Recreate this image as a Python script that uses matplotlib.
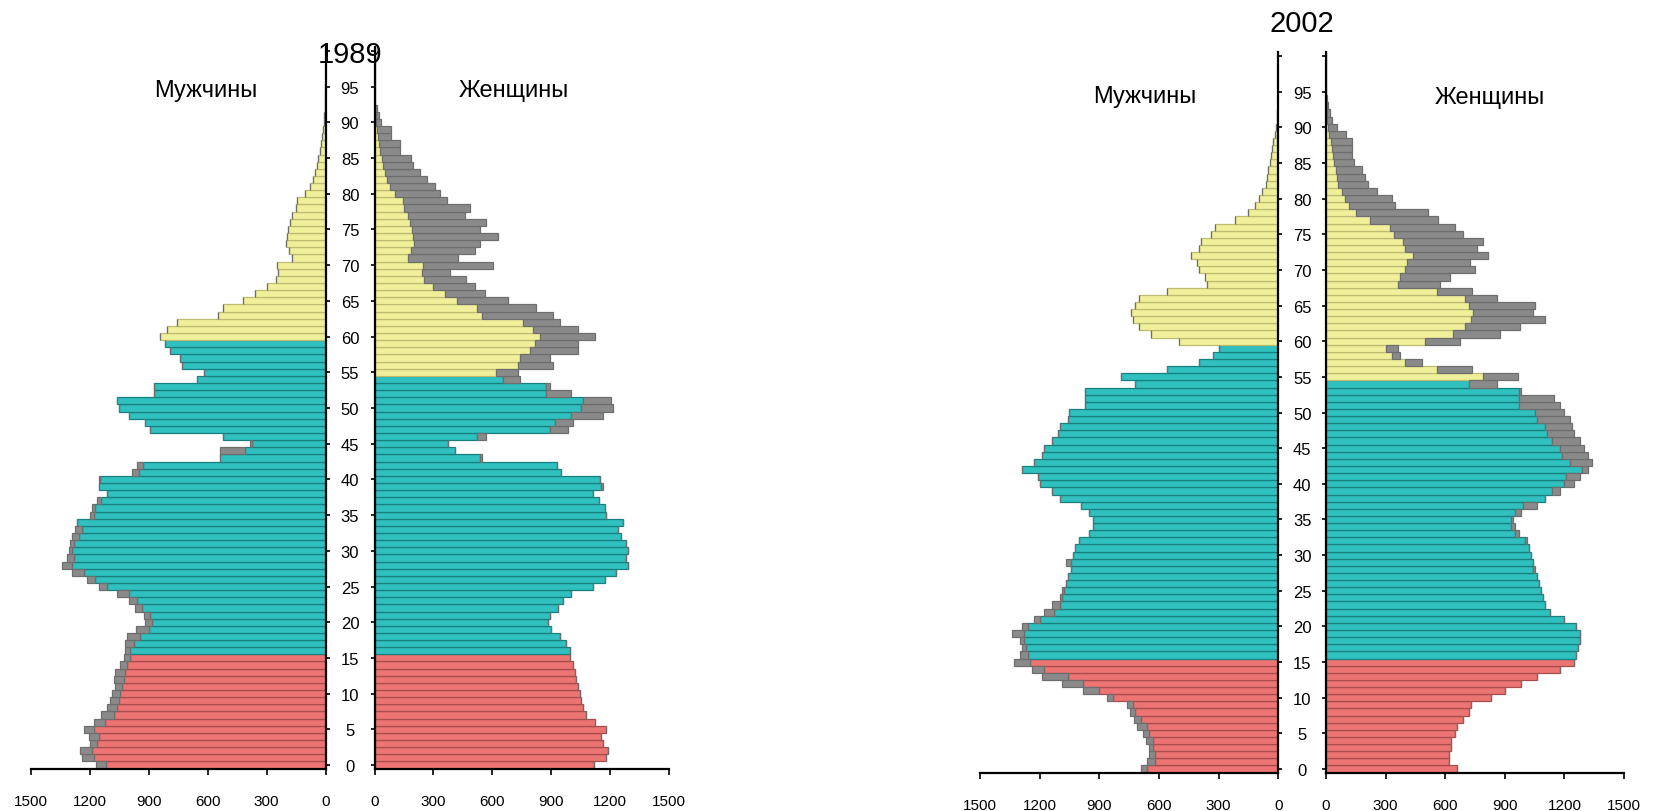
import matplotlib
matplotlib.use("Agg")
import matplotlib.pyplot as plt
import numpy as np

plt.rcParams['font.family'] = ['Liberation Sans', 'DejaVu Sans']

ages = list(range(0, 101))

m1989 = [1170, 1240, 1250, 1200, 1206, 1231, 1180, 1146, 1112, 1096,
         1087, 1070, 1079, 1070, 1045, 1028, 1019, 1019, 1011, 965,
         918, 926, 969, 1003, 1061, 1155, 1214, 1291, 1341, 1316,
         1308, 1299, 1291, 1274, 1265, 1197, 1189, 1163, 1112, 1155,
         1155, 985, 960, 536, 536, 384, 520, 892, 918, 1000,
         1053, 1061, 875, 875, 655, 621, 731, 739, 790, 816,
         841, 807, 757, 545, 520, 418, 358, 299, 250, 241,
         248, 172, 185, 200, 195, 190, 180, 172, 150, 146,
         104, 80, 62, 55, 45, 38, 30, 25, 18, 14,
         10, 7, 5, 3, 2, 1, 0, 0, 0, 0, 0]

f1989 = [1120, 1180, 1190, 1163, 1155, 1180, 1121, 1079, 1062, 1053,
         1045, 1036, 1028, 1019, 1011, 994, 994, 977, 943, 901,
         884, 892, 935, 960, 1002, 1112, 1172, 1231, 1290, 1282,
         1290, 1282, 1256, 1239, 1265, 1180, 1172, 1146, 1112, 1163,
         1150, 952, 930, 545, 409, 375, 570, 985, 1011, 1163,
         1214, 1206, 1002, 892, 740, 731, 909, 892, 1036, 1036,
         1121, 1036, 943, 909, 824, 680, 562, 511, 468, 384,
         604, 426, 511, 536, 629, 536, 570, 460, 485, 367,
         333, 307, 265, 231, 197, 188, 129, 129, 85, 85,
         33, 25, 15, 5, 2, 0, 0, 0, 0, 0, 0]

m2002 = [690, 660, 650, 650, 665, 680, 710, 725, 745, 760,
         860, 980, 1090, 1190, 1240, 1330, 1300, 1290, 1300, 1340,
         1290, 1230, 1180, 1140, 1100, 1090, 1070, 1060, 1040, 1070,
         1030, 1020, 1000, 950, 930, 930, 950, 990, 1100, 1140,
         1200, 1210, 1290, 1230, 1190, 1180, 1140, 1110, 1100, 1060,
         1050, 970, 970, 970, 720, 790, 560, 400, 330, 300,
         500, 640, 700, 730, 740, 720, 700, 560, 360, 370,
         400, 410, 440, 400, 390, 340, 320, 220, 150, 117,
         95, 80, 62, 55, 50, 42, 36, 30, 25, 15,
         10, 7, 5, 3, 2, 0, 0, 0, 0, 0, 0]

f2002 = [660, 620, 620, 630, 630, 650, 660, 690, 720, 730,
         830, 900, 980, 1060, 1180, 1250, 1260, 1270, 1280, 1280,
         1260, 1200, 1130, 1100, 1090, 1080, 1070, 1060, 1050, 1040,
         1030, 1020, 1010, 970, 950, 940, 980, 1060, 1100, 1180,
         1250, 1280, 1320, 1340, 1320, 1300, 1280, 1250, 1240, 1230,
         1200, 1180, 1150, 980, 860, 968, 733, 481, 372, 364,
         674, 876, 977, 1100, 1044, 1052, 859, 733, 574, 624,
         750, 725, 817, 758, 792, 691, 649, 565, 515, 347,
         330, 255, 213, 196, 180, 140, 129, 129, 129, 100,
         54, 28, 20, 10, 5, 0, 0, 0, 0, 0, 0]

years = ["1989", "2002"]
x_ticks = [0, 300, 600, 900, 1200, 1500]
age_ticks = list(range(0, 101, 5))
age_labels = [str(a) if a <= 95 else "" for a in age_ticks]
male_label = "Мужчины"
female_label = "Женщины"

# age-group limits (categories)
CHILD_MAX = 15
MALE_WORK_MAX = 59
FEMALE_WORK_MAX = 54

C_RED, E_RED = "#ec7473", "#a94c4c"
C_TEAL, E_TEAL = "#30c0c0", "#17807f"
C_YEL, E_YEL = "#f0f09a", "#bcbc72"
C_GRAY, E_GRAY = "#8a8a8a", "#6e6e6e"
LW = 0.9


def group_colors(work_max):
    fc, ec = [], []
    for a in ages:
        if a <= CHILD_MAX:
            fc.append(C_RED); ec.append(E_RED)
        elif a <= work_max:
            fc.append(C_TEAL); ec.append(E_TEAL)
        else:
            fc.append(C_YEL); ec.append(E_YEL)
    return fc, ec


fig = plt.figure(figsize=(16.59, 8.12), dpi=100)
W, H = 1659.0, 812.0

layouts = {
    "1989": dict(m=(31, 325.5), f=(374.5, 669), ybot=769.6, ytop=48.4),
    "2002": dict(m=(980, 1278.3), f=(1326, 1624), ybot=773.6, ytop=53.4),
}
data = {"1989": (m1989, f1989), "2002": (m2002, f2002)}
title_pos = {"1989": (350, 55), "2002": (1302, 24)}
mlab_pos = {"1989": (206, 91), "2002": (1145, 97)}
flab_pos = {"1989": (514, 91), "2002": (1490, 98)}

for yr in years:
    lay = layouts[yr]
    males, females = data[yr]
    m = np.array(males, float)
    f = np.array(females, float)
    base = np.minimum(m, f)
    m_ex = np.clip(m - f, 0, None)
    f_ex = np.clip(f - m, 0, None)
    b = (H - lay["ybot"]) / H
    h = (lay["ybot"] - lay["ytop"]) / H

    axm = fig.add_axes([lay["m"][0] / W, b, (lay["m"][1] - lay["m"][0]) / W, h])
    axf = fig.add_axes([lay["f"][0] / W, b, (lay["f"][1] - lay["f"][0]) / W, h])

    fcm, ecm = group_colors(MALE_WORK_MAX)
    fcf, ecf = group_colors(FEMALE_WORK_MAX)

    axm.barh(ages, base, height=1.0, color=fcm, edgecolor=ecm, linewidth=LW)
    axm.barh(ages, m_ex, left=base, height=1.0, color=C_GRAY, edgecolor=E_GRAY, linewidth=LW)
    axf.barh(ages, base, height=1.0, color=fcf, edgecolor=ecf, linewidth=LW)
    axf.barh(ages, f_ex, left=base, height=1.0, color=C_GRAY, edgecolor=E_GRAY, linewidth=LW)

    for ax in (axm, axf):
        ax.set_xlim(0, 1500)
        ax.set_ylim(-0.5, 100.5)
        ax.set_facecolor("none")
        ax.spines["top"].set_visible(False)
        ax.set_xticks(x_ticks)
        ax.set_xticklabels([str(v) for v in x_ticks])
        ax.tick_params(axis="x", direction="out", length=4, width=1.2, pad=14,
                       labelsize=11, colors="black")
        ax.spines["bottom"].set_linewidth(1.6)
    axm.invert_xaxis()
    axm.spines["left"].set_visible(False)
    axm.spines["right"].set_linewidth(1.6)
    axm.yaxis.tick_right()
    axm.set_yticks(age_ticks)
    axm.set_yticklabels([])
    axm.tick_params(axis="y", direction="out", length=3, width=1.2, right=True, left=False)

    axf.spines["right"].set_visible(False)
    axf.spines["left"].set_linewidth(1.6)
    axf.set_yticks(age_ticks)
    axf.set_yticklabels(age_labels)
    gap_pt = (lay["f"][0] - lay["m"][1]) / 2.0 * 72.0 / 100.0
    axf.tick_params(axis="y", direction="out", length=3, width=1.2,
                    pad=gap_pt - 3, labelsize=12)
    for lbl in axf.get_yticklabels():
        lbl.set_horizontalalignment("center")

    tx, ty = title_pos[yr]
    fig.text(tx / W, 1 - ty / H, yr, ha="center", va="center", fontsize=21)
    mx, my = mlab_pos[yr]
    fig.text(mx / W, 1 - my / H, male_label, ha="center", va="center", fontsize=17)
    fx, fy = flab_pos[yr]
    fig.text(fx / W, 1 - fy / H, female_label, ha="center", va="center", fontsize=17)

fig.savefig("out.png", dpi=100)
